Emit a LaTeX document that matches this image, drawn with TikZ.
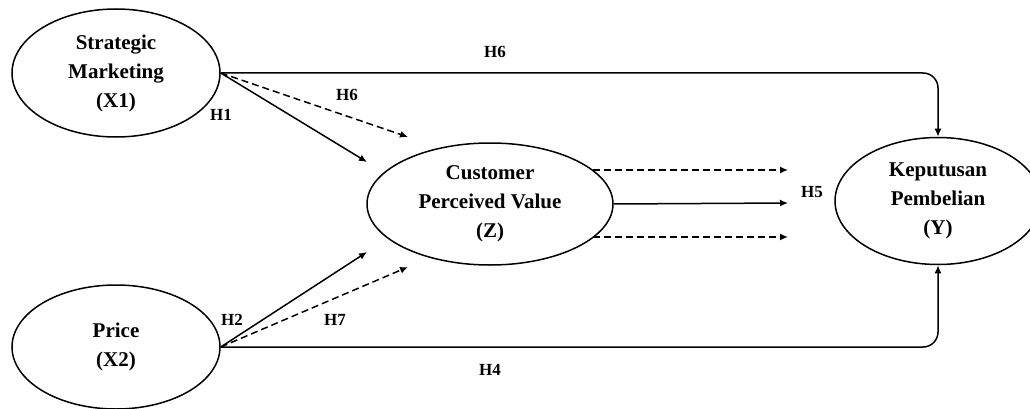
\documentclass[tikz,border=0pt]{standalone}
\usepackage{fontspec}
\setmainfont{Liberation Serif}
\usetikzlibrary{shapes.geometric,arrows.meta}
\begin{document}
\begin{tikzpicture}[x=1pt,y=-1pt,
  var/.style={draw, ellipse, line width=1.5pt, inner sep=0pt, align=center,
    font=\fontsize{21}{29}\selectfont\bfseries},
  lab/.style={font=\fontsize{17}{18}\selectfont\bfseries, inner sep=0pt},
  link/.style={line width=1.5pt, -{Latex[length=8pt,width=7pt]}},
  dlink/.style={link, dash pattern=on 7pt off 4pt}]
\useasboundingbox (0,0) rectangle (1030,409);
\node[var, minimum width=208pt, minimum height=128pt] (X1) at (116,73) {Strategic\\Marketing\\(X1)};
\node[var, minimum width=208pt, minimum height=124pt] (X2) at (116,347) {Price\\(X2)};
\node[var, minimum width=246pt, minimum height=122pt] (Z) at (490,204) {Customer\\Perceived Value\\(Z)};
\node[var, minimum width=206pt, minimum height=127pt] (Y) at (938,201) {Keputusan\\Pembelian\\(Y)};

\coordinate (h1e) at (367,162);
\coordinate (h6e) at (408,137);
\coordinate (h2e) at (367,252);
\coordinate (h7e) at (408,267);
\coordinate (z1s) at (593,170);
\coordinate (z1e) at (788,170);
\coordinate (z2e) at (788,203);
\coordinate (z3s) at (593,237);
\coordinate (z3e) at (788,237);

\draw[link, rounded corners=15pt] (X1.east) -| (Y.north);
\draw[link, rounded corners=15pt] (X2.east) -| (Y.south);
\draw[link] (X1.east) -- (h1e);
\draw[dlink] (X1.east) -- (h6e);
\draw[link] (X2.east) -- (h2e);
\draw[dlink] (X2.east) -- (h7e);
\draw[dlink] (z1s) -- (z1e);
\draw[link] (Z.east) -- (z2e);
\draw[dlink] (z3s) -- (z3e);

\node[lab] (l6a) at (495,52) {H6};
\node[lab] (l6b) at (347,95) {H6};
\node[lab] (l1) at (221,115) {H1};
\node[lab] (l2) at (232,320) {H2};
\node[lab] (l7) at (335,320) {H7};
\node[lab] (l4) at (490,370) {H4};
\node[lab] (l5) at (812,192) {H5};
\end{tikzpicture}
\end{document}
